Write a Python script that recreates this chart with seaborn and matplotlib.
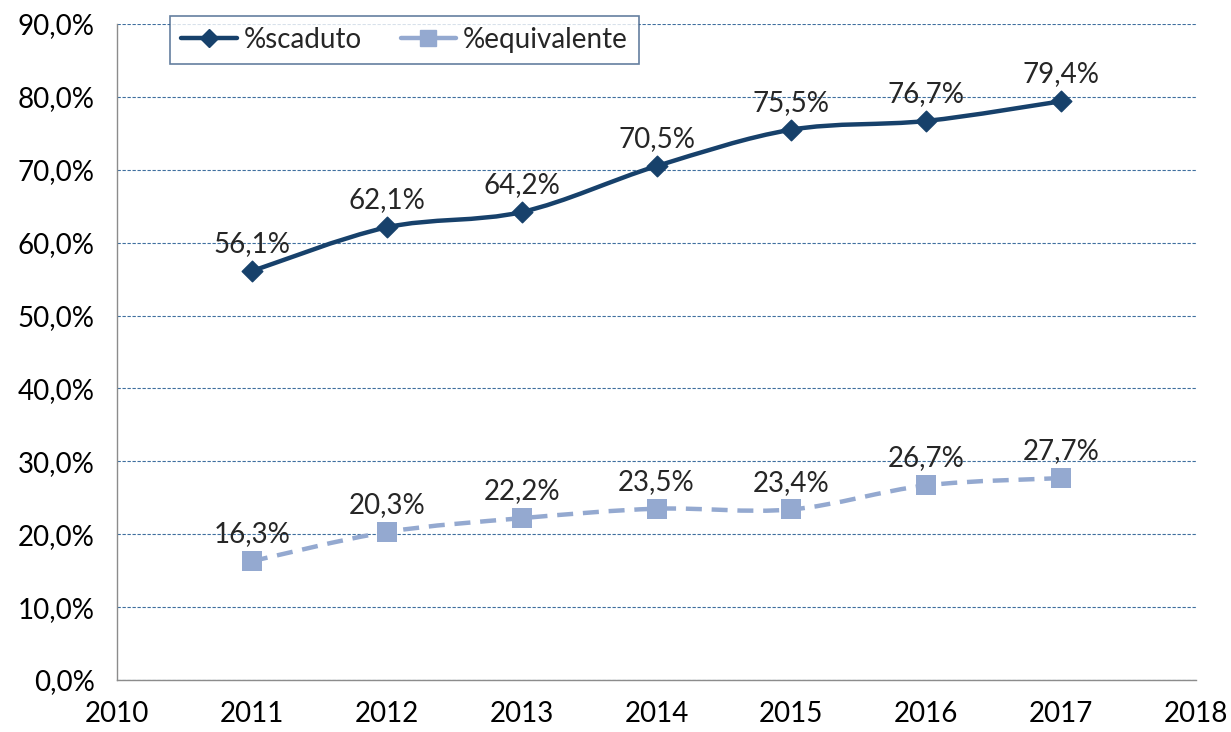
import matplotlib
matplotlib.use("Agg")
import matplotlib.pyplot as plt
import seaborn as sns
import numpy as np
import pandas as pd
from matplotlib.path import Path
from matplotlib.patches import PathPatch
from matplotlib.lines import Line2D

years = [2011, 2012, 2013, 2014, 2015, 2016, 2017]
scaduto = [56.1, 62.1, 64.2, 70.5, 75.5, 76.7, 79.4]
equivalente = [16.3, 20.3, 22.2, 23.5, 23.4, 26.7, 27.7]

dark = "#17416B"
light = "#94A9D0"
grid_col = "#3F6F9F"

sns.set_style("white")
plt.rcParams["font.family"] = ["Lato", "DejaVu Sans"]
fs = 20


def smooth_path(xs, ys):
    # Excel-style smoothed line: cubic Bezier through the points
    pts = np.column_stack([xs, ys]).astype(float)
    verts = [pts[0]]
    codes = [Path.MOVETO]
    n = len(pts)
    for i in range(n - 1):
        p0 = pts[i - 1] if i > 0 else pts[i]
        p1 = pts[i]
        p2 = pts[i + 1]
        p3 = pts[i + 2] if i + 2 < n else pts[i + 1]
        c1 = p1 + (p2 - p0) / 6.0
        c2 = p2 - (p3 - p1) / 6.0
        verts += [c1, c2, p2]
        codes += [Path.CURVE4] * 3
    return Path(verts, codes)


fig = plt.figure(figsize=(12.31, 7.32), dpi=100)
ax = fig.add_axes([117 / 1231, 1 - 680 / 732, (1196 - 117) / 1231, (680 - 24) / 732])

df = pd.DataFrame({"anno": years, "%scaduto": scaduto, "%equivalente": equivalente})

ax.add_patch(PathPatch(smooth_path(years, scaduto), fill=False, edgecolor=dark,
                       lw=3.2, zorder=3))
ax.add_patch(PathPatch(smooth_path(years, equivalente), fill=False, edgecolor=light,
                       lw=3.2, ls=(0, (3.6, 2.2)), zorder=3))

sns.scatterplot(data=df, x="anno", y="%scaduto", marker="D", s=110, color=dark,
                edgecolor=dark, linewidth=1, zorder=4, ax=ax)
sns.scatterplot(data=df, x="anno", y="%equivalente", marker="s", s=190, color=light,
                edgecolor=light, linewidth=0, zorder=4, ax=ax)

for x, v in zip(years, scaduto):
    ax.annotate(f"{v:.1f}%".replace(".", ","), (x, v), xytext=(0, 10),
                textcoords="offset points", ha="center", va="bottom", fontsize=fs)
for x, v in zip(years, equivalente):
    ax.annotate(f"{v:.1f}%".replace(".", ","), (x, v), xytext=(0, 10),
                textcoords="offset points", ha="center", va="bottom", fontsize=fs)

ax.set_xlim(2010, 2018)
ax.set_ylim(0, 90)
ax.set_xticks(range(2010, 2019))
ax.set_yticks(range(0, 91, 10))
ax.set_yticklabels([f"{v:.1f}%".replace(".", ",") for v in range(0, 91, 10)], fontsize=fs)
ax.set_xticklabels([str(y) for y in range(2010, 2019)], fontsize=fs)
ax.set_xlabel("")
ax.set_ylabel("")

ax.yaxis.grid(True, color=grid_col, lw=0.8, ls=(0, (3, 1.5)))
ax.set_axisbelow(True)
for s in ["top", "right"]:
    ax.spines[s].set_visible(False)
for s in ["left", "bottom"]:
    ax.spines[s].set_color("#8C8C8C")
    ax.spines[s].set_linewidth(1)
ax.tick_params(axis="both", direction="out", length=7, width=1, color="#8C8C8C",
               labelcolor="black")
ax.tick_params(axis="y", pad=9)
ax.tick_params(axis="x", pad=8)

handles = [
    Line2D([], [], color=dark, lw=3.2, marker="D", markersize=9, label="%scaduto"),
    Line2D([], [], color=light, lw=3.2, marker="s", markersize=12, label="%equivalente"),
]
leg = ax.legend(handles=handles, loc="upper left", bbox_to_anchor=(170 / 1231, 1 - 16 / 732),
                bbox_transform=fig.transFigure, borderaxespad=0, ncol=2, fontsize=fs,
                frameon=True, fancybox=False, handlelength=2.0, columnspacing=1.4,
                handletextpad=0.25, borderpad=0.4)
leg.get_frame().set_edgecolor("#3D5F87")
leg.get_frame().set_linewidth(1.2)

fig.savefig("out.png", dpi=100)
